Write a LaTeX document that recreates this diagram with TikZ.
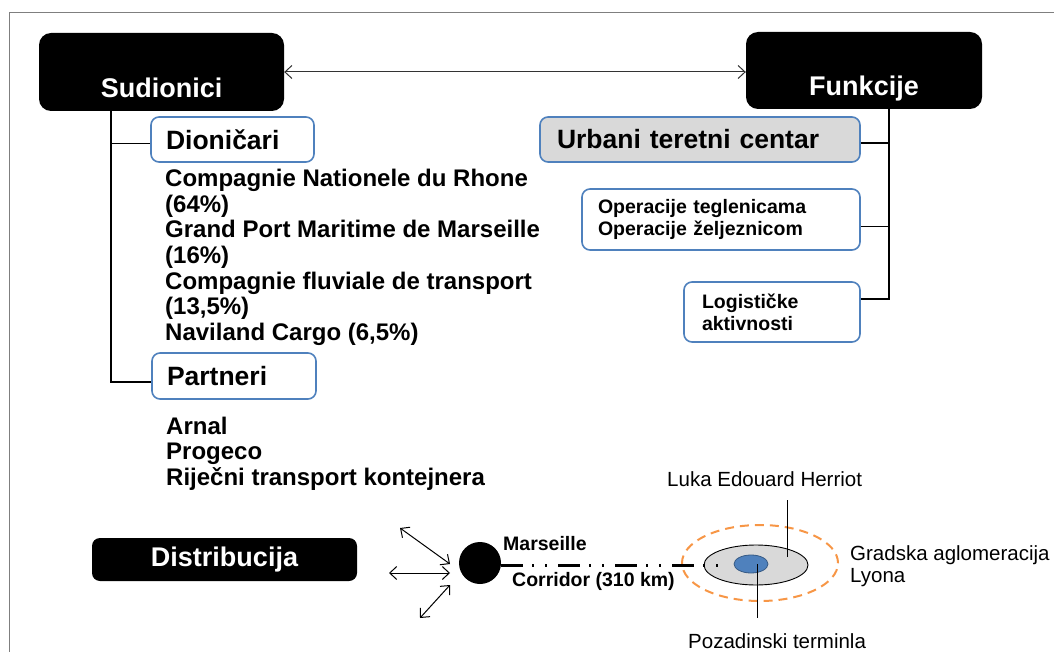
\documentclass[tikz,border=0pt]{standalone}
\usepackage{fontspec}
\setmainfont{Liberation Sans}
\usetikzlibrary{arrows.meta,shapes.geometric,positioning}

\definecolor{boxblue}{HTML}{4F81BD}
\definecolor{ucgray}{HTML}{D9D9D9}
\definecolor{ringorange}{HTML}{F79646}
\definecolor{framegray}{HTML}{7F7F7F}

\newcommand{\hdrfont}{\fontsize{27}{29}\selectfont\bfseries}
\newcommand{\subfont}{\fontsize{26.5}{28}\selectfont\bfseries}
\newcommand{\listfont}{\fontsize{24}{25.5}\selectfont\bfseries}
\newcommand{\boxfont}{\fontsize{19.5}{22}\selectfont\bfseries}
\newcommand{\lblbold}{\fontsize{19.5}{22}\selectfont\bfseries}
\newcommand{\lblfont}{\fontsize{20.5}{22}\selectfont}

\begin{document}
\begin{tikzpicture}[x=1pt, y=-1pt,
  hdrbox/.style={fill=black, rounded corners=12pt, text=white, font=\hdrfont, inner sep=0pt},
  hdrtext/.style={anchor=base, text=white, font=\hdrfont, inner sep=0pt},
  bluebox/.style={draw=boxblue, line width=1.6pt, rounded corners=8pt, fill=white,
    align=left, inner ysep=1pt},
  branch/.style={line width=1.1pt},
  link/.style={line width=1pt, {Straight Barb[length=7pt,width=13pt]}-{Straight Barb[length=7pt,width=13pt]}},
  itemtext/.style={anchor=base west, font=\listfont, inner sep=0pt}
]
\useasboundingbox (0,0) rectangle (1054,652);
% okvir
\draw[framegray, line width=1pt] (9,652) -- (9,13) -- (1054,13);

% sudionici / funkcije
\node[hdrbox, minimum width=245pt, minimum height=78pt] (sud) at (161.5,72) {};
\node[hdrtext] (sudTxt) at ([yshift=14pt]sud.south) {Sudionici};
\node[hdrbox, minimum width=236pt, minimum height=77pt] (fun) at (864,70.5) {};
\node[hdrtext] (funTxt) at ([yshift=14pt]fun.south) {Funkcije};
\draw[link, black!80] (sud.east) -- (sud.east -| fun.west);

% lijeva grana
\node[bluebox, font=\subfont, inner xsep=15pt, text width=133pt, minimum height=45pt] (dio) at (232.5,139.5) {Dioničari};
\foreach \txt [count=\i from 0] in {Compagnie Nationele du Rhone, {(64\%)},
    Grand Port Maritime de Marseille, {(16\%)}, Compagnie fluviale de transport,
    {(13,5\%)}, {Naviland Cargo (6,5\%)}}
  \node[itemtext] (shr-\i) at (165,{187+25.5*\i}) {\txt};
\node[bluebox, font=\subfont, inner xsep=15pt, text width=134pt, minimum height=46pt] (par) at (234,376) {Partneri};
\foreach \txt [count=\i from 0] in {Arnal, Progeco, Riječni transport kontejnera}
  \node[itemtext] (prt-\i) at (166,{434+25.5*\i}) {\txt};

\coordinate (lt) at (111,111);
\draw[branch] (lt) |- ([yshift=-6pt]par.west);
\draw[branch] ([yshift=-4pt]dio.west -| lt) -- ([yshift=-4pt]dio.west);

% desna grana
\node[bluebox, fill=ucgray, font=\subfont, inner xsep=17pt, text width=286pt, minimum height=45pt] (urb) at (700,139.5) {Urbani teretni centar};
\node[bluebox, font=\boxfont, inner xsep=16pt, text width=246pt, minimum height=61pt] (ope) at (721,219.5) {Operacije teglenicama\\Operacije željeznicom};
\node[bluebox, font=\boxfont, inner xsep=18pt, text width=140pt, minimum height=60pt] (log) at (772,312) {Logističke\\aktivnosti};

\coordinate (rt) at (889,109);
\draw[branch] (rt) |- ([yshift=13pt]log.east);
\draw[branch] ([yshift=-3.5pt]urb.east) -- ([yshift=-3.5pt]urb.east -| rt);
\draw[branch] ([yshift=-7pt]ope.east) -- ([yshift=-7pt]ope.east -| rt);

% distribucija
\node[hdrbox, rounded corners=8pt, minimum width=265pt, minimum height=43pt] (dis) at (224.5,559.5) {Distribucija};

\coordinate (arrNW) at (400,528);
\coordinate (arrW) at (389,573);
\coordinate (arrSW) at (420,618);
\draw[link] (arrNW) -- (450,564);
\draw[link] (arrW) -- (450,573);
\draw[link] (arrSW) -- (450,585);

\node[circle, fill=black, minimum size=42pt, inner sep=0pt] (mrs) at (480,563) {};
\node[anchor=base west, font=\lblbold, inner sep=0pt] (mrsTxt) at (503,550) {Marseille};
\node[anchor=base west, font=\lblbold, inner sep=0pt] (corTxt) at (512,586) {Corridor (310 km)};

% lyon
\node[ellipse, draw=ringorange, dash pattern=on 9pt off 6pt, line width=2pt,
  minimum width=156pt, minimum height=76pt] (ring) at (760,563) {};
\node[ellipse, draw, fill=ucgray, line width=0.9pt, minimum width=104pt, minimum height=40pt] (lyon) at (756,565) {};
\node[ellipse, draw=boxblue!70!black, fill=boxblue, line width=0.8pt, inner sep=0pt,
  minimum width=34pt, minimum height=18pt] (port) at (751,564) {};
\coordinate (corEnd) at (726,565);
\draw[line width=3pt, dash pattern=on 22pt off 9pt on 2pt off 11pt on 2pt off 11pt]
  ([yshift=-2pt]mrs.east) -- (corEnd);

\node[anchor=base west, font=\lblfont, inner sep=0pt] (lukaTxt) at (667,486) {Luka Edouard Herriot};
\coordinate (lukaTip) at (787,557);
\draw[line width=0.9pt] (lukaTip) -- ++(0,-57);
\node[anchor=base west, font=\lblfont, inner sep=0pt] (pozTxt) at (688,648) {Pozadinski terminla};
\draw[line width=0.9pt] ([xshift=6pt]port.center) -- ++(0,54);

\node[anchor=base west, font=\lblfont, inner sep=0pt] (aglTxt) at (850,560) {Gradska aglomeracija};
\node[anchor=base west, font=\lblfont, inner sep=0pt] (lyoTxt) at (850,582) {Lyona};
\end{tikzpicture}
\end{document}
